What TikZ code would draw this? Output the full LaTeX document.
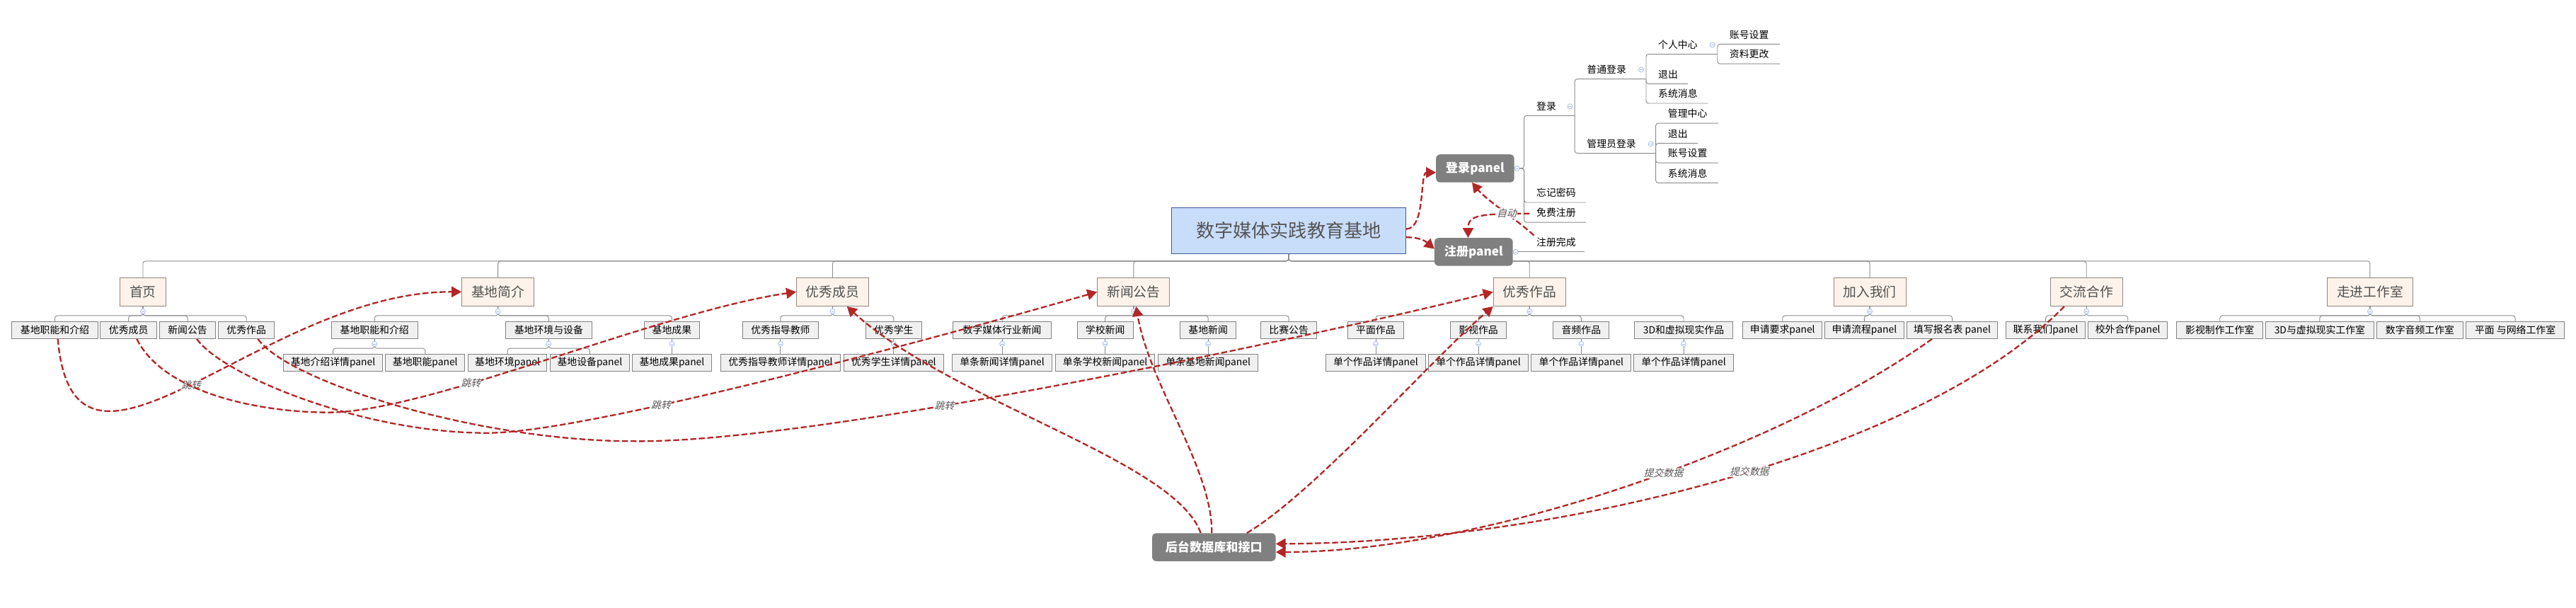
\documentclass[tikz,border=0pt]{standalone}
\usepackage{fontspec}
\setmainfont{Noto Sans CJK SC}
\newfontfamily\relfont[FakeSlant=0.25]{Noto Sans CJK SC}
\usetikzlibrary{arrows.meta,backgrounds}

\definecolor{treegray}{RGB}{140,140,140}
\definecolor{topfill}{RGB}{253,243,234}
\definecolor{topdraw}{RGB}{145,135,130}
\definecolor{subfill}{RGB}{240,240,240}
\definecolor{subdraw}{RGB}{130,130,130}
\definecolor{rootfill}{RGB}{200,221,250}
\definecolor{rootdraw}{RGB}{62,90,150}
\definecolor{panelgray}{RGB}{128,128,128}
\definecolor{relred}{RGB}{180,38,38}
\definecolor{foldblue}{RGB}{160,180,230}

\tikzset{
  treeline/.style={draw=treegray, line width=0.4mm, rounded corners=1.5mm},
  rootbox/.style={draw=rootdraw, fill=rootfill, line width=0.4mm, minimum width=142.5mm, minimum height=28mm, inner sep=0pt, font=\fontsize{32}{36}\selectfont, text={rgb,255:red,85;green,85;blue,85}},
  topicbox/.style={draw=topdraw, fill=topfill, line width=0.4mm, minimum width=#1, minimum height=17.3mm, inner sep=0pt, font=\fontsize{23}{26}\selectfont, text={rgb,255:red,80;green,80;blue,80}},
  subbox/.style={draw=subdraw, fill=subfill, line width=0.4mm, minimum width=#1, minimum height=10.4mm, inner sep=0pt, font=\fontsize{17}{20}\selectfont},
  panelbox/.style={fill=panelgray, rounded corners=2.5mm, minimum width=#1, minimum height=17mm, inner sep=0pt, text=white, font=\fontsize{21}{24}\selectfont\bfseries},
  leafnode/.style={anchor=south west, inner sep=0pt, text width=#1, align=left, text depth=3.5mm, font=\fontsize{17}{20}\selectfont, execute at begin node=\hspace*{7.5mm}},
  foldmark/.style={circle, draw=foldblue, fill=white, line width=0.3mm, minimum size=3mm, inner sep=0pt, path picture={\draw[foldblue, line width=0.3mm] ([xshift=-0.8mm]path picture bounding box.center) -- ([xshift=0.8mm]path picture bounding box.center);}},
  relarrow/.style={draw=relred, line width=1mm, dash pattern=on 3.6mm off 1.6mm, -{Triangle[length=6mm, width=6.5mm]}},
  rellabel/.style={fill=white, fill opacity=0.85, text opacity=1, inner sep=0.5mm, font=\relfont\fontsize{17}{19}\selectfont, text={rgb,255:red,90;green,90;blue,90}},
}

\begin{document}
\begin{tikzpicture}[x=1mm,y=-1mm]
\useasboundingbox (0,0) rectangle (1568,370);

\node[rootbox] (root) at (784.4,140.4) {数字媒体实践教育基地};
\node[panelbox=47.6mm] (login) at (897.9,102.5) {登录panel};
\node[panelbox=47.7mm] (reg) at (897,153.3) {注册panel};
\node[panelbox=75.2mm] (db) at (738.9,333) {后台数据库和接口};

\node[topicbox=28.1mm] (home) at (87,177.65) {首页};
\node[topicbox=44mm] (intro) at (303.1,177.65) {基地简介};
\node[topicbox=44mm] (member) at (506.8,177.65) {优秀成员};
\node[topicbox=44mm] (news) at (690,177.65) {新闻公告};
\node[topicbox=44mm] (works) at (931,177.65) {优秀作品};
\node[topicbox=44mm] (join) at (1138.1,177.65) {加入我们};
\node[topicbox=44mm] (coop) at (1270,177.65) {交流合作};
\node[topicbox=52mm] (studio) at (1442.6,177.65) {走进工作室};

\node[subbox=52.8mm] (h1) at (33.4,200.9) {基地职能和介绍};
\node[subbox=34.3mm] (h2) at (78.25,200.9) {优秀成员};
\node[subbox=34mm] (h3) at (114.2,200.9) {新闻公告};
\node[subbox=34mm] (h4) at (150,200.9) {优秀作品};

\node[subbox=52.5mm] (j1) at (228,200.9) {基地职能和介绍};
\node[subbox=52.5mm] (j2) at (334,200.9) {基地环境与设备};
\node[subbox=34mm] (j3) at (409,200.9) {基地成果};
\node[subbox=60.6mm] (j1a) at (202.7,220.75) {基地介绍详情panel};
\node[subbox=48.1mm] (j1b) at (258.8,220.75) {基地职能panel};
\node[subbox=48.1mm] (j2a) at (308.9,220.75) {基地环境panel};
\node[subbox=48.1mm] (j2b) at (359,220.75) {基地设备panel};
\node[subbox=48.2mm] (j3a) at (409,220.75) {基地成果panel};

\node[subbox=46.2mm] (m1) at (475.1,200.9) {优秀指导教师};
\node[subbox=34mm] (m2) at (544,200.9) {优秀学生};
\node[subbox=73.1mm] (m1a) at (475.1,220.75) {优秀指导教师详情panel};
\node[subbox=60.9mm] (m2a) at (544,220.75) {优秀学生详情panel};

\node[subbox=60mm] (n1) at (610,200.9) {数字媒体行业新闻};
\node[subbox=34mm] (n2) at (672.7,200.9) {学校新闻};
\node[subbox=34mm] (n3) at (735.4,200.9) {基地新闻};
\node[subbox=34mm] (n4) at (784.5,200.9) {比赛公告};
\node[subbox=60.7mm] (n1a) at (610,220.75) {单条新闻详情panel};
\node[subbox=60.3mm] (n2a) at (672.7,220.75) {单条学校新闻panel};
\node[subbox=60.6mm] (n3a) at (735.4,220.75) {单条基地新闻panel};

\node[subbox=34mm] (w1) at (837.4,200.9) {平面作品};
\node[subbox=34mm] (w2) at (899.9,200.9) {影视作品};
\node[subbox=34mm] (w3) at (962.5,200.9) {音频作品};
\node[subbox=60mm] (w4) at (1024.8,200.9) {3D和虚拟现实作品};
\node[subbox=60.7mm] (w1a) at (837.4,220.75) {单个作品详情panel};
\node[subbox=60.7mm] (w2a) at (899.9,220.75) {单个作品详情panel};
\node[subbox=60.7mm] (w3a) at (962.5,220.75) {单个作品详情panel};
\node[subbox=60.7mm] (w4a) at (1024.8,220.75) {单个作品详情panel};

\node[subbox=48.3mm] (a1) at (1085,200.9) {申请要求panel};
\node[subbox=48.4mm] (a2) at (1134.8,200.9) {申请流程panel};
\node[subbox=55mm] (a3) at (1188.3,200.9) {填写报名表 panel};

\node[subbox=48.3mm] (c1) at (1245.2,200.9) {联系我们panel};
\node[subbox=48.1mm] (c2) at (1295.2,200.9) {校外合作panel};

\node[subbox=52.5mm] (s1) at (1351.2,200.9) {影视制作工作室};
\node[subbox=66mm] (s2) at (1412,200.9) {3D与虚拟现实工作室};
\node[subbox=52.6mm] (s3) at (1473,200.9) {数字音频工作室};
\node[subbox=60mm] (s4) at (1531,200.9) {平面 与网络工作室};

\node[leafnode=30.7mm] (dl) at (927.7,70.4) {登录};
\node[leafnode=37.5mm] (wj) at (927.7,123.2) {忘记密码};
\node[leafnode=37.5mm] (mf) at (927.7,135.3) {免费注册};
\node[leafnode=36.6mm] (zc) at (927.7,153.3) {注册完成};
\node[leafnode=43.4mm] (pt) at (958.4,48.1) {普通登录};
\node[leafnode=49.3mm] (gl) at (958.4,93.3) {管理员登录};
\node[leafnode=43.4mm] (gr) at (1001.8,33) {个人中心};
\node[leafnode=25.5mm] (tc1) at (1001.8,51) {退出};
\node[leafnode=37.8mm] (xx1) at (1001.8,62.9) {系统消息};
\node[leafnode=38mm] (zh1) at (1045.2,26.9) {账号设置};
\node[leafnode=38mm] (zl) at (1045.2,38.8) {资料更改};
\node[leafnode=38mm] (gz) at (1007.7,75) {管理中心};
\node[leafnode=25.6mm] (tc2) at (1007.7,87.2) {退出};
\node[leafnode=38mm] (zh2) at (1007.7,99.1) {账号设置};
\node[leafnode=38mm] (xx2) at (1007.7,111.3) {系统消息};

\begin{scope}[on background layer]
\draw[treeline] (root.south) -- ++(0,4.3) -| (home.north);
\draw[treeline] (root.south) -- ++(0,4.3) -| (intro.north);
\draw[treeline] (root.south) -- ++(0,4.3) -| (member.north);
\draw[treeline] (root.south) -- ++(0,4.3) -| (news.north);
\draw[treeline] (root.south) -- ++(0,4.3) -| (works.north);
\draw[treeline] (root.south) -- ++(0,4.3) -| (join.north);
\draw[treeline] (root.south) -- ++(0,4.3) -| (coop.north);
\draw[treeline] (root.south) -- ++(0,4.3) -| (studio.north);

\draw[treeline] (home.south) -- ++(0,5.6) -| (h1.north);
\draw[treeline] (home.south) -- ++(0,5.6) -| (h2.north);
\draw[treeline] (home.south) -- ++(0,5.6) -| (h3.north);
\draw[treeline] (home.south) -- ++(0,5.6) -| (h4.north);

\draw[treeline] (intro.south) -- ++(0,5.6) -| (j1.north);
\draw[treeline] (intro.south) -- ++(0,5.6) -| (j2.north);
\draw[treeline] (intro.south) -- ++(0,5.6) -| (j3.north);
\draw[treeline] (j1.south) -- ++(0,5.7) -| (j1a.north);
\draw[treeline] (j1.south) -- ++(0,5.7) -| (j1b.north);
\draw[treeline] (j2.south) -- ++(0,5.7) -| (j2a.north);
\draw[treeline] (j2.south) -- ++(0,5.7) -| (j2b.north);
\draw[treeline] (j3.south) -- (j3a.north);

\draw[treeline] (member.south) -- ++(0,5.6) -| (m1.north);
\draw[treeline] (member.south) -- ++(0,5.6) -| (m2.north);
\draw[treeline] (m1.south) -- (m1a.north);
\draw[treeline] (m2.south) -- (m2a.north);

\draw[treeline] (news.south) -- ++(0,5.6) -| (n1.north);
\draw[treeline] (news.south) -- ++(0,5.6) -| (n2.north);
\draw[treeline] (news.south) -- ++(0,5.6) -| (n3.north);
\draw[treeline] (news.south) -- ++(0,5.6) -| (n4.north);
\draw[treeline] (n1.south) -- (n1a.north);
\draw[treeline] (n2.south) -- (n2a.north);
\draw[treeline] (n3.south) -- (n3a.north);

\draw[treeline] (works.south) -- ++(0,5.6) -| (w1.north);
\draw[treeline] (works.south) -- ++(0,5.6) -| (w2.north);
\draw[treeline] (works.south) -- ++(0,5.6) -| (w3.north);
\draw[treeline] (works.south) -- ++(0,5.6) -| (w4.north);
\draw[treeline] (w1.south) -- (w1a.north);
\draw[treeline] (w2.south) -- (w2a.north);
\draw[treeline] (w3.south) -- (w3a.north);
\draw[treeline] (w4.south) -- (w4a.north);

\draw[treeline] (join.south) -- ++(0,5.6) -| (a1.north);
\draw[treeline] (join.south) -- ++(0,5.6) -| (a2.north);
\draw[treeline] (join.south) -- ++(0,5.6) -| (a3.north);

\draw[treeline] (coop.south) -- ++(0,5.6) -| (c1.north);
\draw[treeline] (coop.south) -- ++(0,5.6) -| (c2.north);

\draw[treeline] (studio.south) -- ++(0,5.6) -| (s1.north);
\draw[treeline] (studio.south) -- ++(0,5.6) -| (s2.north);
\draw[treeline] (studio.south) -- ++(0,5.6) -| (s3.north);
\draw[treeline] (studio.south) -- ++(0,5.6) -| (s4.north);

\draw[treeline] (login.east) -- (login.east -| dl.south west) |- (dl.south east);
\draw[treeline] (login.east) -- (login.east -| wj.south west) |- (wj.south east);
\draw[treeline] (login.east) -- (login.east -| mf.south west) |- (mf.south east);
\draw[treeline] (reg.east) -- (zc.south east);
\draw[treeline] (dl.south east) |- (pt.south east);
\draw[treeline] (dl.south east) |- (gl.south east);
\draw[treeline] (pt.south east) |- (gr.south east);
\draw[treeline] (pt.south east) |- (tc1.south east);
\draw[treeline] (pt.south east) |- (xx1.south east);
\draw[treeline] (gr.south east) |- (zh1.south east);
\draw[treeline] (gr.south east) |- (zl.south east);
\draw[treeline] (gl.south east) |- (gz.south east);
\draw[treeline] (gl.south east) |- (tc2.south east);
\draw[treeline] (gl.south east) |- (zh2.south east);
\draw[treeline] (gl.south east) |- (xx2.south east);
\end{scope}

\node[foldmark] (f0) at ([yshift=-3mm]home.south) {};
\node[foldmark] (f1) at ([yshift=-3mm]intro.south) {};
\node[foldmark] (f2) at ([yshift=-3mm]member.south) {};
\node[foldmark] (f3) at ([yshift=-3mm]news.south) {};
\node[foldmark] (f4) at ([yshift=-3mm]works.south) {};
\node[foldmark] (f5) at ([yshift=-3mm]join.south) {};
\node[foldmark] (f6) at ([yshift=-3mm]coop.south) {};
\node[foldmark] (f7) at ([yshift=-3mm]studio.south) {};
\node[foldmark] (fj1) at ([yshift=-3mm]j1.south) {};
\node[foldmark] (fj2) at ([yshift=-3mm]j2.south) {};
\node[foldmark] (fj3) at ([yshift=-3mm]j3.south) {};
\node[foldmark] (fm1) at ([yshift=-3mm]m1.south) {};
\node[foldmark] (fm2) at ([yshift=-3mm]m2.south) {};
\node[foldmark] (fn1) at ([yshift=-3mm]n1.south) {};
\node[foldmark] (fn2) at ([yshift=-3mm]n2.south) {};
\node[foldmark] (fn3) at ([yshift=-3mm]n3.south) {};
\node[foldmark] (fw1) at ([yshift=-3mm]w1.south) {};
\node[foldmark] (fw2) at ([yshift=-3mm]w2.south) {};
\node[foldmark] (fw3) at ([yshift=-3mm]w3.south) {};
\node[foldmark] (fw4) at ([yshift=-3mm]w4.south) {};
\node[foldmark] (flg) at ([xshift=1.6mm]login.east) {};
\node[foldmark] (frg) at ([xshift=1.6mm]reg.east) {};
\node[foldmark] (fdl) at ([xshift=-3mm,yshift=5.7mm]dl.south east) {};
\node[foldmark] (fpt) at ([xshift=-3mm,yshift=5.7mm]pt.south east) {};
\node[foldmark] (fgl) at ([xshift=-3mm,yshift=5.7mm]gl.south east) {};
\node[foldmark] (fgr) at ([xshift=-3mm,yshift=5.7mm]gr.south east) {};

\draw[relarrow] ([yshift=1mm]root.east) .. controls (868,139.4) and (864,105) .. ([yshift=-2.5mm]login.west);
\draw[relarrow] ([yshift=-4mm]root.east) .. controls (866,144.4) and (869,148) .. ([yshift=1.8mm]reg.west);
\draw[relarrow] ([xshift=3.3mm,yshift=5.3mm]mf.south west) .. controls (900,130) and (893.6,131) .. ([xshift=-3.4mm]reg.north);
\draw[relarrow] ([xshift=6mm,yshift=10mm]zc.south west) .. controls (925,135) and (905,122) .. ([xshift=-1.9mm]login.south) node[rellabel, pos=0.45] {自动};

\draw[relarrow] ([xshift=1.8mm]h1.south) .. controls (45,320) and (160,177) .. (intro.west) node[rellabel, pos=0.5] {跳转};
\draw[relarrow] ([xshift=5mm]h2.south) .. controls (100,240) and (160,251) .. (200,251) .. controls (260,251) and (400,190) .. (member.west) node[rellabel, pos=0.35] {跳转};
\draw[relarrow] ([xshift=5.6mm]h3.south) .. controls (135,228) and (220,263.5) .. (296.6,263.5) .. controls (360,263.5) and (590,200) .. (news.west) node[rellabel, pos=0.33] {跳转};
\draw[relarrow] ([xshift=7mm]h4.south) .. controls (175,232) and (290,268.5) .. (385.6,268.5) .. controls (500,270) and (820,200) .. (works.west) node[rellabel, pos=0.37] {跳转};

\draw[relarrow] ([xshift=-8mm]db.north) .. controls (715,280) and (580,245) .. ([xshift=8.7mm]member.south);
\draw[relarrow] ([xshift=-1.3mm]db.north) .. controls (738,285) and (700,235) .. ([xshift=1.5mm]news.south);
\draw[relarrow] ([xshift=20mm]db.north) .. controls (800,300) and (870,220) .. (works.south west);

\draw[relarrow] ([xshift=-12.3mm]a3.south) .. controls (1080,275) and (900,336) .. ([yshift=-3mm]db.east) node[rellabel, pos=0.44] {提交数据};
\draw[relarrow] ([xshift=-13.5mm]coop.south) .. controls (1170,275) and (950,330) .. ([yshift=2mm]db.east) node[rellabel, pos=0.47] {提交数据};

\end{tikzpicture}
\end{document}
